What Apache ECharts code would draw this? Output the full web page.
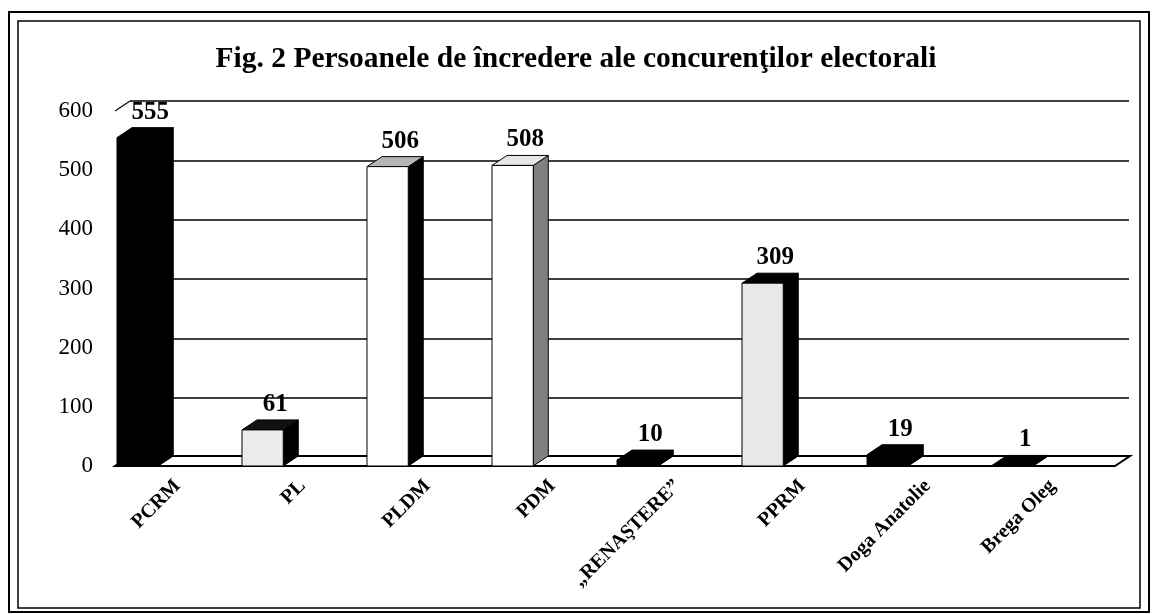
<!DOCTYPE html>
<html>
<head>
<meta charset="utf-8">
<script src="https://cdn.jsdelivr.net/npm/echarts@6/dist/echarts.min.js"></script>
<style>
  html, body { margin: 0; padding: 0; background: #fff; }
  #chart { width: 1152px; height: 614px; }
</style>
</head>
<body>
<div id="chart"></div>
<script>
// date
var categories = ['PCRM', 'PL', 'PLDM', 'PDM', '„RENAŞTERE”', 'PPRM', 'Doga Anatolie', 'Brega Oleg'];
var values = [555, 61, 506, 508, 10, 309, 19, 1];
var yTicks = [0, 100, 200, 300, 400, 500, 600];

// culori pe fete (fata, lateral, sus)
var frontColors = ['#000', '#ececec', '#fff', '#fff', '#000', '#e8e8e8', '#000', '#000'];
var sideColors = ['#000', '#000', '#000', '#808080', '#000', '#000', '#000', '#000'];
var topColors = ['#000', '#111', '#b5b5b5', '#e6e6e6', '#000', '#000', '#000', '#000'];

var DX = 15, DY = 10;
var serif = 'Liberation Serif';

var chart = echarts.init(document.getElementById('chart'));

function renderBar(params, api) {
    var i = api.value(0);
    var base = api.coord([i, 0]);
    var top = api.coord([i, api.value(1)]);
    var bw = api.size([1, 0])[0];
    var left = base[0] - bw / 2 + bw * 0.016;
    var w = bw * 0.33;
    var y0 = base[1], y1 = top[1];
    var line = { stroke: '#000', lineWidth: 1 };
    return {
        type: 'group',
        children: [
            {
                type: 'polygon',
                shape: { points: [[left + w, y1], [left + w + DX, y1 - DY], [left + w + DX, y0 - DY], [left + w, y0]] },
                style: Object.assign({ fill: sideColors[i] }, line)
            },
            {
                type: 'polygon',
                shape: { points: [[left, y1], [left + DX, y1 - DY], [left + w + DX, y1 - DY], [left + w, y1]] },
                style: Object.assign({ fill: topColors[i] }, line)
            },
            {
                type: 'rect',
                shape: { x: left, y: y1, width: w, height: y0 - y1 },
                style: Object.assign({ fill: frontColors[i] }, line)
            },
            {
                type: 'text',
                x: left + (w + DX) / 2 + 5,
                y: y1 - DY - 3,
                style: {
                    text: String(api.value(1)),
                    fill: '#000',
                    font: 'bold 25px "' + serif + '"',
                    textAlign: 'center',
                    textVerticalAlign: 'bottom'
                }
            }
        ]
    };
}

function renderFloor(params, api) {
    var first = api.coord([0, 0]);
    var last = api.coord([categories.length - 1, 0]);
    var topLeft = api.coord([0, yTicks[yTicks.length - 1]]);
    var bw = api.size([1, 0])[0];
    var l = first[0] - bw / 2, r = last[0] + bw / 2, y = first[1];
    return {
        type: 'group',
        children: [
            {
                type: 'polygon',
                shape: { points: [[l, y], [l + DX, y - DY], [r + DX, y - DY], [r, y]] },
                style: { fill: '#fff', stroke: '#000', lineWidth: 2 }
            },
            {
                type: 'line',
                shape: { x1: l, y1: topLeft[1], x2: l + DX, y2: topLeft[1] - DY },
                style: { stroke: '#000', lineWidth: 1.2 }
            }
        ]
    };
}

var option = {
    animation: false,
    title: {
        text: 'Fig. 2 Persoanele de încredere ale concurenţilor electorali',
        left: 'center',
        top: 39,
        textStyle: { fontFamily: serif, fontSize: 29.5, fontWeight: 'bold', color: '#000' }
    },
    graphic: [
        { type: 'rect', shape: { x: 9, y: 12, width: 1140, height: 600 }, style: { fill: 'none', stroke: '#000', lineWidth: 2 } },
        { type: 'rect', shape: { x: 18, y: 21, width: 1122, height: 587 }, style: { fill: 'none', stroke: '#000', lineWidth: 1.5 } }
    ],
    grid: [
        { left: 115, right: 37, top: 111, bottom: 148 },
        { left: 130, right: 23, top: 101, bottom: 157 }
    ],
    xAxis: [
        {
            type: 'category', gridIndex: 0, data: categories,
            axisLine: { show: false }, axisTick: { show: false },
            axisLabel: {
                rotate: 45, margin: 17, interval: 0,
                fontFamily: serif, fontSize: 20, fontWeight: 'bold', color: '#000'
            }
        },
        { type: 'category', gridIndex: 1, data: categories, show: false }
    ],
    yAxis: [
        {
            type: 'value', gridIndex: 0, min: 0, max: 600, interval: 100,
            axisLine: { show: false }, axisTick: { show: false }, splitLine: { show: false },
            axisLabel: { margin: 22, fontFamily: serif, fontSize: 23, color: '#000' }
        },
        {
            type: 'value', gridIndex: 1, min: 0, max: 600, interval: 100,
            axisLine: { show: false }, axisTick: { show: false }, axisLabel: { show: false },
            splitLine: { show: true, lineStyle: { color: '#000', width: 1.5 } }
        }
    ],
    series: [
        {
            type: 'custom', xAxisIndex: 0, yAxisIndex: 0, z: 1,
            renderItem: renderFloor,
            data: [[0, 0]]
        },
        {
            type: 'custom', xAxisIndex: 0, yAxisIndex: 0, z: 3,
            renderItem: renderBar,
            data: values.map(function (v, i) { return [i, v]; })
        }
    ]
};

chart.setOption(option);
</script>
</body>
</html>
